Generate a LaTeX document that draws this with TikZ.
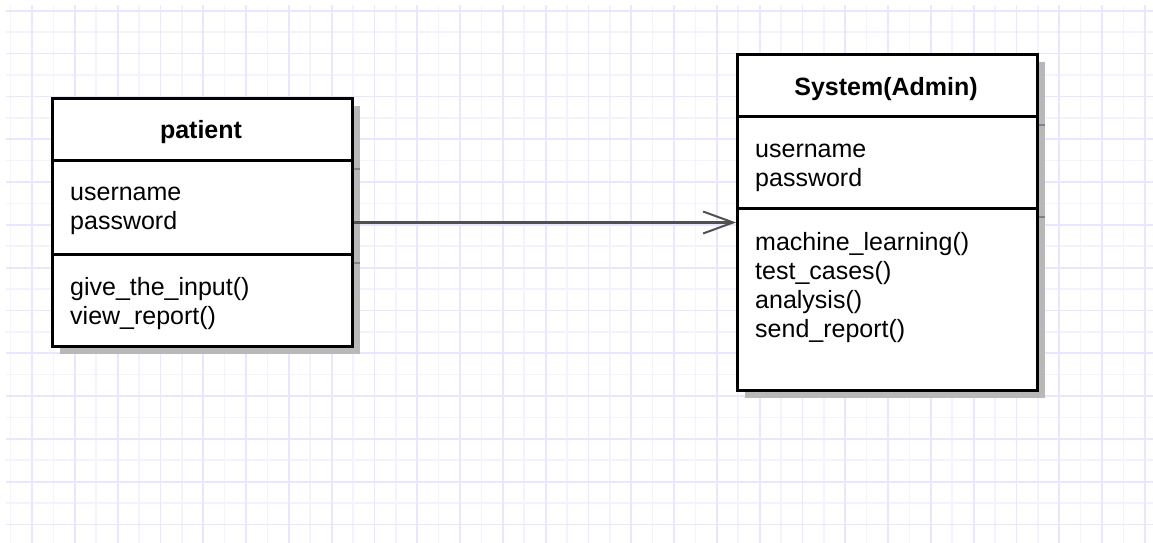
\documentclass[tikz,border=0pt]{standalone}
\usepackage{fontspec}
\setmainfont{Liberation Sans}
\usetikzlibrary{arrows.meta}
\definecolor{gridminor}{RGB}{243,243,255}
\definecolor{gridmajor}{RGB}{231,231,255}
\definecolor{shadowgray}{RGB}{184,184,184}
\definecolor{shadowline}{RGB}{130,130,130}
\definecolor{arrowgray}{RGB}{80,80,80}
\begin{document}
\begin{tikzpicture}[x=1pt,y=-1pt,
  classbox/.style={draw=black, line width=3pt, fill=white, inner sep=0pt, anchor=north west},
  shadowbox/.style={fill=shadowgray},
  divider/.style={draw=black, line width=3pt},
  shadowdiv/.style={draw=shadowline, line width=1.2pt},
  txt/.style={font=\fontsize{25}{29}\selectfont, inner sep=0pt, anchor=base west},
  ttl/.style={font=\fontsize{25}{29}\selectfont\bfseries, inner sep=0pt, anchor=base},
  assoc/.style={draw=arrowgray, line width=2.2pt, -{Straight Barb[length=30pt,width=22pt,line width=2pt]}}
]
\useasboundingbox (0,0) rectangle (1153,543);
\fill[white] (0,0) rectangle (1153,543);
% grid
\begin{scope}
  \clip (6,5) rectangle (1153,543);
  \foreach \i in {0,...,27} {
    \draw[gridminor, line width=1.6pt] ({10.6+42.8*\i},5) -- ++(0,538);
  }
  \foreach \i in {0,...,13} {
    \draw[gridminor, line width=1.6pt] (6,{32.2+42.8*\i}) -- ++(1147,0);
  }
  \foreach \i in {0,...,27} {
    \draw[gridmajor, line width=1.8pt] ({32+42.8*\i},5) -- ++(0,538);
  }
  \foreach \i in {0,...,13} {
    \draw[gridmajor, line width=1.8pt] (6,{10.8+42.8*\i}) -- ++(1147,0);
  }
\end{scope}
% shadows
\fill[shadowbox] (60,106) rectangle (360,354);
\fill[shadowbox] (745,62) rectangle (1045,398);
\draw[shadowdiv] (352,169) -- (360,169);
\draw[shadowdiv] (352,263) -- (360,263);
\draw[shadowdiv] (1037,125) -- (1045,125);
\draw[shadowdiv] (1037,217) -- (1045,217);
% patient class
\node[classbox, minimum width=300pt, minimum height=248pt] (patient) at (51,97) {};
\draw[divider] (51,160) -- (351,160);
\draw[divider] (51,254) -- (351,254);
\node[ttl] (ptitle) at (201,138) {patient};
\node[txt] (puser) at (70,200) {username};
\node[txt] (ppass) at (70,229) {password};
\node[txt] (pinput) at (70,295) {give\_the\_input()};
\node[txt] (pview) at (70,324) {view\_report()};
% system class
\node[classbox, minimum width=300pt, minimum height=336pt] (system) at (736,53) {};
\draw[divider] (736,116) -- (1036,116);
\draw[divider] (736,208) -- (1036,208);
\node[ttl] (stitle) at (886,95) {System(Admin)};
\node[txt] (suser) at (755,157) {username};
\node[txt] (spass) at (755,186) {password};
\node[txt] (sml) at (755,250) {machine\_learning()};
\node[txt] (stest) at (755,279) {test\_cases()};
\node[txt] (sana) at (755,308) {analysis()};
\node[txt] (ssend) at (755,337) {send\_report()};
% association
\draw[assoc] (patient.east) -- (system.west);
\end{tikzpicture}
\end{document}
